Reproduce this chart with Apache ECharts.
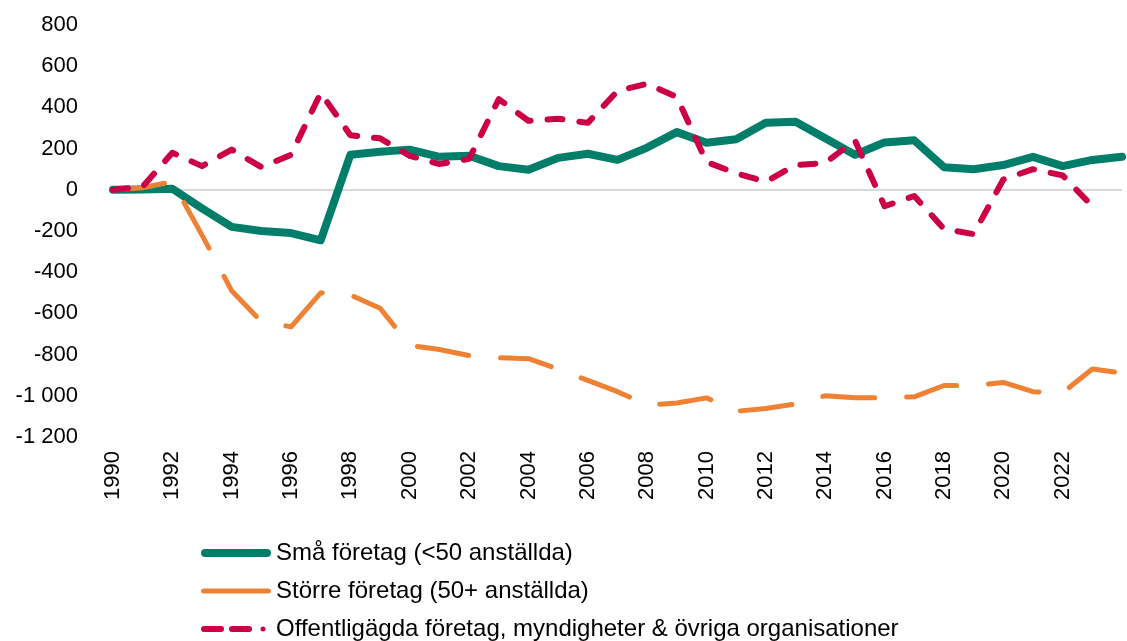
<!DOCTYPE html>
<html>
<head>
<meta charset="utf-8">
<script src="https://cdn.jsdelivr.net/npm/echarts@6/dist/echarts.min.js"></script>
<style>
  html, body { margin: 0; padding: 0; background: #fff; }
  #chart { width: 1127px; height: 641px; }
</style>
</head>
<body>
<div id="chart"></div>
<script>
const years = [];
for (let y = 1990; y <= 2024; y++) years.push(String(y));

const smaForetag = [0, 2, 5, -90, -180, -200, -210, -245, 170, 185, 195, 160, 165, 115, 97, 155, 175, 145, 205, 280,
  228, 245, 325, 330, 250, 170, 230, 240, 110, 100, 120, 160, 115, 145, 160];
const storreForetag = [0, 10, 40, -220, -490, -640, -665, -500, -510, -575, -755, -775, -805, -815, -820, -870, -925, -980, -1045, -1035,
  -1010, -1075, -1062, -1040, -1000, -1010, -1010, -1005, -950, -950, -935, -980, -985, -870, -890];
const offentliga = [0, 15, 180, 115, 195, 110, 170, 470, 265, 250, 165, 125, 150, 440, 335, 345, 325, 480, 515, 450,
  135, 80, 40, 120, 130, 240, -80, -30, -190, -215, 50, 100, 70, -80, null];

const yMin = -1200, yMax = 800, yStep = 200;

const FONT = "Liberation Sans, Arial, sans-serif";
const GREEN = "#007E6A";
const ORANGE = "#EE8133";
const RED = "#CB0046";

// legend icons drawn in a 70 x 8 box (tiny corner dots keep the box size)
const ICON_SOLID = "path://M4,0h62a4,4 0 0 1 0,8h-62a4,4 0 0 1 0,-8z";
const ICON_THIN = "path://M0,0h0.01v0.01h-0.01z M0,7.99h0.01v0.01h-0.01z M3,1.5h64a3,2.5 0 0 1 0,5h-64a3,2.5 0 0 1 0,-5z";
const ICON_DASH = "path://M3,1h17a3,3 0 0 1 0,6h-17a3,3 0 0 1 0,-6z M31,1h17a3,3 0 0 1 0,6h-17a3,3 0 0 1 0,-6z M62,1.5a2.5,2.5 0 1 1 0,5a2.5,2.5 0 1 1 0,-5z M0,0h0.01v0.01h-0.01z M0,7.99h0.01v0.01h-0.01z M69.99,0h0.01v0.01h-0.01z";

const chart = echarts.init(document.getElementById("chart"));

chart.setOption({
  backgroundColor: "#fff",
  animation: false,
  grid: { left: 113, right: 5, top: 25, bottom: 204 },
  legend: {
    orient: "vertical",
    left: 196,
    top: 536,
    height: 120,
    itemWidth: 70,
    itemHeight: 8,
    itemGap: 14,
    textStyle: { fontFamily: FONT, fontSize: 24, color: "#000" },
    data: [
      { name: "Små företag (<50 anställda)", icon: ICON_SOLID },
      { name: "Större företag (50+ anställda)", icon: ICON_THIN },
      { name: "Offentligägda företag, myndigheter & övriga organisationer", icon: ICON_DASH }
    ]
  },
  xAxis: {
    type: "category",
    data: years,
    boundaryGap: false,
    axisLine: { show: false },
    axisTick: { show: false },
    axisLabel: {
      rotate: 90,
      margin: 14,
      fontFamily: FONT,
      fontSize: 22,
      color: "#000",
      interval: (idx) => idx % 2 === 0 && idx < 34
    },
    splitLine: { show: false }
  },
  yAxis: {
    type: "value",
    min: yMin,
    max: yMax,
    interval: yStep,
    axisLine: { show: false },
    axisTick: { show: false },
    splitLine: { show: false },
    axisLabel: {
      margin: 35,
      fontFamily: FONT,
      fontSize: 22,
      color: "#000",
      formatter: (v) => String(v).replace(/(\d)(?=(\d{3})+$)/, "$1 ")
    }
  },
  series: [
    {
      name: "Små företag (<50 anställda)",
      type: "line",
      data: smaForetag,
      symbol: "none",
      z: 3,
      lineStyle: { color: GREEN, width: 8, cap: "round", join: "round" },
      itemStyle: { color: GREEN },
      markLine: {
        silent: true,
        symbol: "none",
        label: { show: false },
        lineStyle: { color: "#d9d9d9", width: 2, type: "solid" },
        data: [{ yAxis: 0 }],
        z: 1
      }
    },
    {
      name: "Större företag (50+ anställda)",
      type: "line",
      data: storreForetag,
      symbol: "none",
      z: 4,
      lineStyle: { color: ORANGE, width: 5, type: [52, 32], cap: "round", join: "round" },
      itemStyle: { color: ORANGE }
    },
    {
      name: "Offentligägda företag, myndigheter & övriga organisationer",
      type: "line",
      data: offentliga,
      symbol: "none",
      z: 5,
      lineStyle: { color: RED, width: 6, type: [15, 17], cap: "round", join: "round" },
      itemStyle: { color: RED }
    }
  ]
});
</script>
</body>
</html>
